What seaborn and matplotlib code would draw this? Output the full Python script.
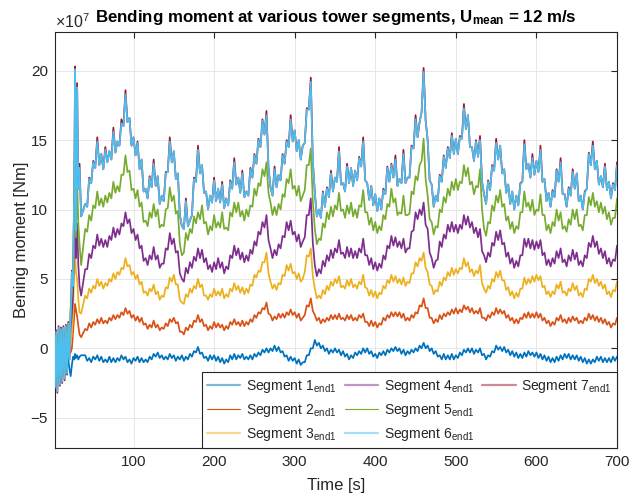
import matplotlib
matplotlib.use('Agg')
import matplotlib.pyplot as plt
import seaborn as sns
import pandas as pd
from matplotlib.lines import Line2D

sns.set_theme(style='white')
plt.rcParams['font.family'] = ['Liberation Sans', 'DejaVu Sans']
plt.rcParams['mathtext.fontset'] = 'custom'
plt.rcParams['mathtext.rm'] = 'Liberation Sans'
plt.rcParams['mathtext.it'] = 'Liberation Sans:italic'
plt.rcParams['mathtext.bf'] = 'Liberation Sans:bold'

# ---------------- data (bending moment in units of 1e7 Nm) ----------------
# start-up transient samples
time_transient = [2.5, 4, 5.5, 7, 8.5, 10, 11.5, 13, 14.5, 16, 17.5, 19, 20.5,
                  22, 23.5, 25, 26.5, 27.5, 28.5, 30, 31.5, 33, 35]
# main samples every 5 s (40..700) and in-between samples (42.5..697.5)
time_main = list(range(40, 701, 5))
time_mid = [40 + 2.5 + 5 * k for k in range(132)]

seg1_tr = [-1.5, -0.6, -1.6, -0.5, -1.4, -0.6, -1.3, -0.6, -1.2, -0.7, -1.1, -0.8, -1.5,
           -2.0, -1.2, -0.6, -0.8, -0.4, -0.7, -0.5, -0.8, -0.6, -0.5]
seg1_main = [-0.5, -0.7, -0.6, -0.5, -0.6, -0.8, -0.6, -0.7, -0.7, -0.5,
             -0.6, -0.8, -0.7, -0.6, -0.7, -0.8, -0.6, -0.4, -0.3, -0.5,
             -0.6, -0.4, -0.5, -0.6, -0.5, -0.6, -0.4, -0.2, 0.1, -0.3,
             -0.6, -0.5, -0.5, -0.6, -0.7, -0.8, -0.5, -0.4, -0.5, -0.4,
             -0.6, -0.5, -0.4, -0.3, -0.1, 0.0, 0.0, 0.2, 0.1, -0.2,
             -0.5, -0.6, -0.7, -0.8, -1.0, -0.5, 0.0, 0.6, 0.4, 0.2,
             0.0, -0.1, 0.0, -0.1, -0.2, -0.4, -0.5, -0.3, -0.2, 0.0,
             0.0, -0.2, -0.4, -0.3, -0.2, -0.1, 0.0, 0.1, 0.0, -0.1,
             -0.2, -0.1, 0.0, 0.2, 0.4, 0.2, 0.0, -0.2, -0.5, -0.4,
             -0.5, -0.4, -0.5, -0.3, -0.1, 0.0, 0.0, -0.1, 0.0, -0.4,
             -0.5, -0.2, 0.2, 0.1, 0.1, -0.1, -0.2, -0.3, -0.4, -0.3,
             -0.2, -0.3, -0.3, -0.4, -0.5, -0.6, -0.7, -0.6, -0.5, -0.4,
             -0.4, -0.5, -0.5, -0.6, -0.7, -0.8, -0.8, -0.6, -0.6, -0.7,
             -0.7, -0.6, -0.6]
seg1_mid = [-0.9, -1.0, -0.8, -0.9, -1.0, -1.0, -1.0, -1.0, -0.9, -0.8,
            -1.0, -1.1, -0.9, -1.0, -1.0, -1.0, -0.8, -0.6, -0.7, -0.8,
            -0.8, -0.7, -0.9, -0.8, -0.9, -0.8, -0.6, -0.3, -0.4, -0.7,
            -0.9, -0.8, -0.9, -1.0, -1.1, -1.0, -0.8, -0.8, -0.7, -0.8,
            -0.8, -0.8, -0.6, -0.5, -0.3, -0.3, -0.2, -0.2, -0.3, -0.6,
            -0.9, -0.9, -1.1, -1.2, -1.0, -0.5, 0.0, 0.2, 0.0, -0.2,
            -0.4, -0.3, -0.3, -0.5, -0.6, -0.8, -0.7, -0.5, -0.4, -0.3,
            -0.4, -0.6, -0.7, -0.5, -0.5, -0.3, -0.2, -0.2, -0.4, -0.5,
            -0.4, -0.3, -0.2, 0.0, 0.0, -0.2, -0.4, -0.6, -0.8, -0.8,
            -0.8, -0.8, -0.7, -0.5, -0.3, -0.3, -0.4, -0.3, -0.5, -0.8,
            -0.6, -0.3, -0.1, -0.2, -0.3, -0.5, -0.6, -0.7, -0.7, -0.6,
            -0.5, -0.6, -0.7, -0.8, -0.9, -1.0, -1.0, -0.9, -0.8, -0.7,
            -0.8, -0.8, -0.9, -1.0, -1.1, -1.1, -1.0, -0.9, -1.0, -1.0,
            -1.0, -0.9]

seg2_tr = [-0.8, 0.2, -0.8, 0.3, -0.6, 0.3, -0.6, 0.3, -0.5, 0.3, -0.4, 0.3, -0.2,
           -0.3, 0.0, 1.2, 2.5, 3.2, 2.8, 2.3, 1.6, 1.0, 0.8]
seg2_main = [1.4, 1.8, 1.9, 2.1, 2.2, 2.0, 2.2, 2.4, 2.4, 2.6,
             2.9, 2.7, 2.4, 2.3, 2.2, 1.8, 1.7, 2.0, 1.7, 1.5,
             1.8, 2.1, 2.2, 1.9, 1.2, 1.5, 1.7, 2.0, 2.4, 2.1,
             1.7, 1.6, 1.9, 1.8, 1.7, 1.6, 1.9, 2.1, 1.9, 2.0,
             1.9, 2.1, 2.4, 2.6, 2.9, 3.3, 2.4, 2.3, 2.5, 2.5,
             2.6, 2.8, 2.6, 2.5, 2.2, 3.1, 3.6, 2.4, 2.2, 2.1,
             2.2, 2.4, 2.4, 2.5, 2.2, 2.4, 2.4, 2.2, 2.4, 2.5,
             1.9, 2.0, 1.9, 1.8, 2.2, 2.4, 2.6, 2.6, 2.6, 2.5,
             2.2, 2.4, 2.6, 3.1, 3.6, 2.9, 2.2, 2.1, 2.4, 2.5,
             2.6, 2.8, 2.9, 2.8, 3.1, 3.0, 2.9, 2.7, 2.9, 2.2,
             2.4, 2.6, 2.9, 2.8, 2.7, 2.4, 2.2, 2.1, 2.2, 2.5,
             2.6, 2.5, 2.6, 2.5, 2.2, 2.0, 1.9, 2.2, 2.4, 2.1,
             2.2, 2.3, 2.2, 2.0, 2.2, 2.5, 2.4, 2.3, 2.2, 2.1,
             1.9, 1.8, 2.2]
seg2_mid = [1.3, 1.5, 1.7, 1.8, 1.8, 1.8, 2.0, 2.1, 2.2, 2.4,
            2.5, 2.2, 2.0, 1.9, 1.7, 1.4, 1.5, 1.5, 1.3, 1.4,
            1.6, 1.9, 1.8, 1.2, 1.0, 1.3, 1.5, 1.9, 1.9, 1.6,
            1.3, 1.4, 1.5, 1.5, 1.3, 1.4, 1.7, 1.7, 1.6, 1.6,
            1.7, 1.9, 2.2, 2.5, 2.8, 2.5, 2.0, 2.1, 2.2, 2.2,
            2.4, 2.4, 2.2, 2.0, 2.4, 3.0, 2.7, 2.0, 1.8, 1.9,
            2.0, 2.1, 2.1, 2.1, 2.0, 2.1, 2.0, 2.0, 2.2, 1.9,
            1.6, 1.6, 1.5, 1.7, 2.0, 2.2, 2.3, 2.3, 2.2, 2.0,
            2.0, 2.2, 2.5, 3.0, 2.9, 2.2, 1.8, 1.9, 2.1, 2.3,
            2.4, 2.5, 2.5, 2.6, 2.8, 2.6, 2.5, 2.5, 2.2, 2.0,
            2.2, 2.4, 2.5, 2.5, 2.2, 2.0, 1.8, 1.8, 2.1, 2.2,
            2.2, 2.2, 2.2, 2.0, 1.8, 1.6, 1.7, 2.0, 1.9, 1.8,
            1.9, 2.0, 1.8, 1.8, 2.0, 2.1, 2.0, 1.9, 1.8, 1.7,
            1.5, 1.7]

seg3_tr = [-1.2, 0.4, -1.2, 0.6, -1.0, 0.5, -0.9, 0.6, -0.9, 0.6, -0.6, 0.7, 0.0,
           0.5, 1.0, 2.5, 6.0, 7.3, 5.5, 5.0, 3.5, 2.6, 2.5]
seg3_main = [3.8, 4.3, 4.5, 5.0, 4.8, 4.7, 5.0, 5.4, 5.5, 5.8,
             6.5, 6.0, 5.5, 5.3, 4.8, 4.1, 4.3, 4.6, 4.1, 3.8,
             4.4, 5.1, 5.3, 4.6, 3.3, 3.9, 4.3, 4.5, 5.0, 4.6,
             3.8, 3.9, 4.3, 4.1, 4.3, 3.9, 4.3, 4.7, 4.5, 4.4,
             4.3, 4.6, 5.3, 5.6, 6.2, 6.9, 4.8, 4.6, 4.7, 5.3,
             6.0, 6.1, 5.5, 5.4, 5.0, 6.7, 7.2, 4.3, 3.8, 4.2,
             4.5, 4.8, 5.0, 5.2, 4.5, 4.9, 5.0, 4.6, 4.8, 5.3,
             4.3, 4.2, 4.1, 4.0, 4.5, 4.9, 5.3, 5.2, 5.0, 5.1,
             4.8, 5.4, 6.2, 6.5, 6.9, 5.5, 4.5, 4.2, 4.8, 5.1,
             5.5, 5.8, 5.7, 5.8, 6.5, 6.2, 5.7, 5.6, 6.0, 4.3,
             4.5, 5.0, 5.5, 5.6, 4.9, 4.4, 4.1, 4.0, 4.3, 5.1,
             5.0, 5.2, 5.3, 5.2, 4.5, 4.1, 4.1, 4.6, 4.8, 4.1,
             4.3, 4.7, 4.5, 4.0, 4.3, 5.0, 5.3, 5.0, 4.8, 4.6,
             4.1, 4.2, 4.8]
seg3_mid = [3.6, 4.0, 4.3, 4.5, 4.3, 4.5, 4.8, 5.0, 5.3, 5.7,
            5.9, 5.3, 5.0, 4.6, 4.0, 3.8, 4.1, 3.9, 3.5, 3.7,
            4.3, 4.8, 4.6, 3.5, 3.2, 3.7, 4.0, 4.3, 4.4, 3.8,
            3.5, 3.7, 3.8, 3.8, 3.6, 3.7, 4.1, 4.2, 4.0, 3.9,
            4.0, 4.5, 5.1, 5.5, 6.2, 5.4, 4.3, 4.2, 4.6, 5.2,
            5.6, 5.4, 5.0, 4.8, 5.5, 6.6, 5.2, 3.6, 3.6, 3.9,
            4.2, 4.5, 4.7, 4.4, 4.3, 4.5, 4.4, 4.3, 4.6, 4.4,
            3.8, 3.7, 3.6, 3.9, 4.3, 4.7, 4.8, 4.7, 4.6, 4.5,
            4.7, 5.4, 5.9, 6.3, 5.8, 4.6, 3.9, 4.1, 4.5, 4.9,
            5.2, 5.3, 5.4, 5.7, 5.9, 5.5, 5.2, 5.4, 4.7, 4.0,
            4.3, 4.8, 5.1, 4.9, 4.2, 3.8, 3.6, 3.7, 4.3, 4.6,
            4.7, 4.8, 4.9, 4.4, 3.9, 3.7, 3.9, 4.3, 4.0, 3.8,
            4.1, 4.2, 3.8, 3.7, 4.2, 4.8, 4.7, 4.5, 4.3, 3.9,
            3.7, 4.1]

seg4_tr = [-1.7, 0.7, -1.8, 0.9, -1.5, 0.8, -1.4, 0.9, -1.3, 0.9, -1.0, 1.1, 0.3,
           1.5, 2.5, 4.0, 9.0, 12.0, 6.5, 9.0, 6.0, 4.5, 3.8]
seg4_main = [5.7, 6.8, 7.4, 8.2, 7.9, 7.8, 8.1, 8.7, 8.6, 9.0,
             9.8, 9.3, 8.6, 8.2, 7.4, 6.5, 6.7, 7.3, 6.7, 6.1,
             7.2, 8.3, 7.9, 7.0, 5.0, 5.8, 6.2, 6.6, 7.2, 7.1,
             6.5, 6.0, 6.2, 6.5, 6.2, 5.9, 6.7, 7.4, 7.2, 6.9,
             6.7, 7.1, 7.7, 8.4, 9.1, 9.6, 7.2, 7.1, 7.5, 8.1,
             9.1, 9.2, 8.4, 8.2, 7.7, 9.6, 10.8, 6.0, 5.7, 6.3,
             6.7, 7.1, 7.2, 7.8, 6.9, 7.3, 7.2, 7.0, 7.2, 7.9,
             6.7, 6.5, 6.2, 6.1, 6.7, 7.4, 8.1, 8.0, 7.7, 7.9,
             7.2, 8.4, 9.8, 10.0, 10.5, 8.6, 6.5, 6.3, 7.7, 8.2,
             8.9, 9.1, 8.9, 8.9, 9.6, 9.5, 9.1, 8.7, 8.6, 6.7,
             6.9, 7.6, 8.4, 8.5, 7.6, 6.9, 6.5, 6.3, 6.7, 7.9,
             7.9, 7.8, 7.7, 7.8, 6.9, 6.4, 6.5, 7.0, 7.2, 6.4,
             6.7, 7.1, 6.9, 6.3, 6.7, 7.6, 8.1, 7.7, 7.2, 7.0,
             6.5, 6.4, 7.4]
seg4_mid = [5.7, 6.5, 7.2, 7.4, 7.3, 7.3, 7.8, 8.0, 8.2, 8.8,
            9.0, 8.3, 7.8, 7.2, 6.3, 6.0, 6.4, 6.4, 5.8, 6.1,
            7.1, 7.5, 6.9, 5.4, 4.8, 5.4, 5.8, 6.3, 6.5, 6.2,
            5.7, 5.5, 5.7, 5.8, 5.4, 5.7, 6.5, 6.7, 6.4, 6.2,
            6.3, 6.8, 7.4, 8.2, 8.7, 7.8, 6.5, 6.7, 7.2, 8.0,
            8.5, 8.2, 7.7, 7.3, 8.0, 9.6, 7.6, 5.2, 5.4, 5.9,
            6.3, 6.5, 6.9, 6.8, 6.5, 6.6, 6.5, 6.5, 6.9, 6.7,
            6.0, 5.7, 5.6, 5.8, 6.4, 7.2, 7.4, 7.3, 7.2, 6.9,
            7.2, 8.5, 9.3, 9.6, 8.9, 6.9, 5.8, 6.4, 7.3, 7.9,
            8.4, 8.4, 8.3, 8.6, 8.9, 8.7, 8.3, 8.0, 7.0, 6.2,
            6.6, 7.4, 7.8, 7.5, 6.6, 6.1, 5.8, 5.9, 6.7, 7.3,
            7.2, 7.1, 7.2, 6.7, 6.0, 5.9, 6.1, 6.5, 6.2, 5.9,
            6.3, 6.4, 6.0, 5.9, 6.5, 7.3, 7.3, 6.8, 6.5, 6.1,
            5.9, 6.3]

seg5_tr = [-2.2, 0.9, -2.4, 1.2, -2.0, 1.1, -1.9, 1.2, -1.7, 1.2, -1.3, 1.5, 0.5,
           3.0, 4.0, 6.0, 11.0, 13.0, 8.0, 12.0, 9.0, 7.5, 6.0]
seg5_main = [8.6, 9.6, 10.3, 11.3, 10.8, 11.0, 11.2, 12.0, 11.7, 12.5,
             13.9, 12.8, 11.5, 11.4, 10.5, 9.2, 9.8, 10.4, 10.0, 8.9,
             10.0, 11.6, 11.0, 9.9, 6.7, 8.3, 8.6, 9.5, 9.8, 10.3,
             9.1, 8.8, 9.6, 9.1, 9.8, 8.7, 9.8, 10.5, 10.5, 9.9,
             10.0, 10.3, 11.5, 11.9, 12.9, 13.4, 10.5, 10.2, 10.4, 11.1,
             12.2, 12.9, 11.7, 11.7, 11.0, 13.2, 14.4, 8.6, 7.9, 9.0,
             9.8, 10.2, 10.3, 11.2, 10.0, 10.3, 10.5, 10.0, 10.3, 11.4,
             9.8, 9.4, 9.1, 8.8, 9.6, 10.4, 11.5, 10.8, 9.8, 11.0,
             9.6, 11.3, 12.4, 13.2, 15.1, 11.0, 9.1, 8.8, 10.0, 10.9,
             11.5, 12.0, 12.2, 12.0, 13.2, 13.0, 12.0, 11.7, 12.9, 8.6,
             9.1, 10.3, 11.0, 11.4, 10.4, 9.5, 9.1, 8.8, 9.8, 11.3,
             10.5, 10.7, 10.0, 11.1, 9.6, 8.9, 9.1, 10.0, 9.8, 8.8,
             9.3, 10.0, 10.0, 8.9, 9.6, 10.9, 11.2, 10.6, 10.5, 10.2,
             9.8, 9.4, 10.8]
seg5_mid = [8.4, 9.2, 10.1, 10.3, 10.2, 10.5, 10.8, 11.2, 11.3, 12.5,
            12.7, 11.4, 10.8, 10.2, 9.1, 8.8, 9.4, 9.5, 8.7, 8.8,
            10.1, 10.6, 9.7, 7.5, 6.9, 7.8, 8.3, 9.0, 9.3, 9.0,
            8.2, 8.5, 8.7, 8.7, 8.6, 8.5, 9.5, 9.8, 9.5, 9.2,
            9.5, 10.2, 11.0, 11.7, 12.4, 11.2, 9.6, 9.6, 10.0, 10.9,
            11.9, 11.5, 11.0, 10.6, 11.4, 13.2, 10.6, 7.5, 7.8, 8.7,
            9.3, 9.5, 10.0, 9.9, 9.4, 9.7, 9.5, 9.4, 10.2, 9.8,
            8.9, 8.5, 8.3, 8.5, 9.3, 10.2, 10.5, 9.6, 9.7, 9.6,
            9.7, 11.1, 12.1, 13.5, 12.2, 9.3, 8.2, 8.7, 9.8, 10.5,
            11.0, 11.4, 11.4, 11.9, 12.4, 11.8, 11.1, 11.6, 10.0, 8.1,
            9.0, 9.9, 10.5, 10.2, 9.2, 8.6, 8.3, 8.6, 9.8, 10.2,
            9.9, 9.6, 9.9, 9.6, 8.5, 8.3, 8.8, 9.2, 8.6, 8.4,
            8.9, 9.3, 8.8, 8.5, 9.6, 10.3, 10.2, 9.8, 9.7, 9.3,
            8.9, 9.4]

seg6_tr = [-2.8, 1.2, -3.1, 1.5, -2.6, 1.4, -2.4, 1.5, -2.2, 1.6, -1.8, 1.8, -0.8,
           2.2, 5.5, 4.5, 12.0, 20.1, 8.5, 18.8, 11.5, 13.0, 9.5]
seg6_main = [10.4, 12.2, 13.4, 14.9, 14.0, 14.3, 14.2, 15.6, 14.9, 16.2,
             18.3, 16.6, 15.2, 14.8, 13.6, 11.5, 12.3, 13.3, 12.4, 11.0,
             12.6, 14.9, 14.2, 12.6, 8.8, 10.6, 9.2, 12.2, 14.3, 13.2,
             11.3, 11.0, 12.1, 11.5, 11.8, 10.8, 12.0, 13.4, 12.3, 12.6,
             11.3, 12.9, 13.9, 15.0, 16.4, 16.8, 11.6, 12.9, 12.5, 13.9,
             14.9, 16.5, 15.7, 15.0, 14.6, 17.2, 19.2, 11.2, 10.0, 11.2,
             11.5, 12.6, 12.3, 14.2, 11.9, 13.1, 13.0, 12.8, 13.7, 14.9,
             11.9, 11.7, 11.1, 10.8, 11.4, 13.0, 13.2, 13.6, 12.2, 14.0,
             12.3, 14.5, 16.5, 16.3, 19.9, 15.0, 11.8, 11.0, 12.4, 13.8,
             14.4, 15.3, 15.1, 15.2, 17.3, 16.8, 14.5, 14.9, 15.0, 11.1,
             12.0, 13.1, 14.8, 14.6, 12.9, 11.8, 11.3, 11.0, 11.8, 14.7,
             13.3, 13.7, 13.5, 14.3, 12.2, 11.2, 11.3, 12.8, 13.4, 11.1,
             11.5, 12.7, 12.6, 11.0, 11.2, 14.0, 14.6, 13.5, 12.4, 13.1,
             12.0, 11.8, 13.2]
seg6_mid = [10.2, 11.9, 13.0, 13.2, 12.9, 13.4, 13.6, 14.1, 14.6, 16.0,
            16.3, 14.6, 13.9, 12.9, 11.3, 10.8, 11.6, 11.7, 10.4, 10.6,
            12.7, 13.4, 12.2, 9.6, 8.6, 8.8, 9.6, 12.0, 12.6, 11.2,
            10.0, 10.5, 10.6, 10.5, 10.1, 10.3, 11.5, 11.8, 11.2, 10.9,
            11.0, 12.3, 13.3, 14.5, 15.4, 13.0, 11.0, 11.6, 12.1, 13.3,
            14.5, 14.9, 14.2, 13.6, 14.8, 17.2, 13.5, 9.5, 9.4, 10.2,
            10.9, 11.3, 12.0, 11.8, 11.3, 11.9, 11.7, 12.1, 13.1, 12.1,
            10.7, 10.3, 9.9, 10.0, 11.1, 12.0, 12.3, 11.7, 11.9, 11.9,
            12.3, 14.4, 15.2, 17.0, 16.4, 12.1, 10.2, 10.6, 12.0, 13.0,
            13.7, 14.0, 14.0, 15.1, 15.8, 14.5, 13.5, 13.8, 12.0, 10.4,
            11.4, 12.8, 13.6, 12.6, 11.2, 10.4, 10.0, 10.3, 12.0, 12.9,
            12.3, 12.5, 12.7, 12.0, 10.6, 10.2, 10.9, 12.0, 11.1, 10.2,
            11.0, 11.5, 10.6, 10.0, 11.5, 13.2, 12.9, 11.8, 11.6, 11.4,
            10.8, 11.4]

seg7_tr = [-2.9, 1.3, -3.2, 1.6, -2.7, 1.5, -2.5, 1.6, -2.3, 1.7, -1.9, 1.9, -0.8,
           2.3, 5.6, 4.5, 12.2, 20.3, 8.6, 19.1, 11.5, 13.3, 9.5]
seg7_main = [10.4, 12.3, 13.5, 15.2, 14.0, 14.5, 14.2, 15.9, 14.9, 16.5,
             18.6, 16.6, 15.2, 14.9, 13.6, 11.5, 12.4, 13.6, 12.4, 11.0,
             12.7, 15.2, 14.2, 12.6, 8.8, 10.8, 9.2, 12.3, 14.6, 13.2,
             11.3, 11.0, 12.3, 11.5, 12.0, 10.8, 12.1, 13.7, 12.3, 12.8,
             11.3, 13.0, 14.0, 15.1, 16.5, 17.1, 11.6, 13.1, 12.5, 14.0,
             15.0, 16.8, 15.7, 15.0, 14.6, 17.3, 19.5, 11.2, 10.0, 11.3,
             11.6, 12.8, 12.3, 14.5, 11.9, 13.3, 13.0, 12.8, 13.8, 15.2,
             11.9, 11.7, 11.1, 10.8, 11.5, 13.1, 13.3, 13.9, 12.2, 14.3,
             12.3, 14.6, 16.8, 16.3, 20.2, 15.0, 11.8, 11.0, 12.5, 13.9,
             14.5, 15.5, 15.1, 15.3, 17.6, 16.8, 14.5, 15.0, 15.3, 11.1,
             12.1, 13.2, 15.1, 14.6, 12.9, 11.8, 11.3, 11.0, 11.9, 15.0,
             13.3, 14.0, 13.5, 14.6, 12.2, 11.2, 11.4, 12.9, 13.7, 11.1,
             11.6, 12.9, 12.6, 11.0, 11.3, 14.1, 14.9, 13.5, 12.4, 13.3,
             12.0, 11.9, 13.4]
seg7_mid = [10.2, 11.9, 13.0, 13.2, 12.9, 13.4, 13.6, 14.1, 14.6, 16.0,
            16.3, 14.6, 13.9, 12.9, 11.3, 10.8, 11.6, 11.7, 10.4, 10.6,
            12.7, 13.4, 12.2, 9.6, 8.6, 8.8, 9.6, 12.0, 12.6, 11.2,
            10.0, 10.5, 10.6, 10.5, 10.1, 10.3, 11.5, 11.8, 11.2, 10.9,
            11.0, 12.3, 13.3, 14.5, 15.4, 13.0, 11.0, 11.6, 12.1, 13.3,
            14.5, 14.9, 14.2, 13.6, 14.8, 17.2, 13.5, 9.5, 9.4, 10.2,
            10.9, 11.3, 12.0, 11.8, 11.3, 11.9, 11.7, 12.1, 13.1, 12.1,
            10.7, 10.3, 9.9, 10.0, 11.1, 12.0, 12.3, 11.7, 11.9, 11.9,
            12.3, 14.4, 15.2, 17.0, 16.4, 12.1, 10.2, 10.6, 12.0, 13.0,
            13.7, 14.0, 14.0, 15.1, 15.8, 14.5, 13.5, 13.8, 12.0, 10.4,
            11.4, 12.8, 13.6, 12.6, 11.2, 10.4, 10.0, 10.3, 12.0, 12.9,
            12.3, 12.5, 12.7, 12.0, 10.6, 10.2, 10.9, 12.0, 11.1, 10.2,
            11.0, 11.5, 10.6, 10.0, 11.5, 13.2, 12.9, 11.8, 11.6, 11.4,
            10.8, 11.4]

segment_names = ['Segment 1', 'Segment 2', 'Segment 3', 'Segment 4',
                 'Segment 5', 'Segment 6', 'Segment 7']
series = [(seg1_tr, seg1_main, seg1_mid), (seg2_tr, seg2_main, seg2_mid),
          (seg3_tr, seg3_main, seg3_mid), (seg4_tr, seg4_main, seg4_mid),
          (seg5_tr, seg5_main, seg5_mid), (seg6_tr, seg6_main, seg6_mid),
          (seg7_tr, seg7_main, seg7_mid)]
colors = ['#0072BD', '#D95319', '#EDB120', '#7E2F8E', '#77AC30', '#4DBEEE', '#A2142F']

frames = []
for name, (tr, mn, md) in zip(segment_names, series):
    frames.append(pd.DataFrame({'Time': time_transient + time_main + time_mid,
                                'Moment': tr + mn + md, 'Segment': name}))
df = pd.concat(frames, ignore_index=True)

# ---------------- figure ----------------
fig = plt.figure(figsize=(6.39, 4.97), dpi=100)
ax = fig.add_axes([0.086, 0.098, 0.8796, 0.838])

draw_order = [6, 0, 1, 2, 3, 4, 5]
for z, i in enumerate(draw_order):
    sub = df[df['Segment'] == segment_names[i]]
    sns.lineplot(data=sub, x='Time', y='Moment', ax=ax, color=colors[i],
                 linewidth=1.25, estimator=None, sort=True, legend=False,
                 zorder=3 + z)

ax.set_xlim(2.5, 700)
ax.set_ylim(-7.2, 22.8)
ax.set_xticks([100, 200, 300, 400, 500, 600, 700])
ax.set_yticks([-5, 0, 5, 10, 15, 20])
ax.grid(True, color='#e3e3e3', linewidth=0.6)
ax.set_axisbelow(True)
for sp in ax.spines.values():
    sp.set_color('#262626')
    sp.set_linewidth(0.8)
ax.tick_params(axis='both', which='both', direction='in', length=4, width=0.8,
               top=True, right=True, colors='#262626', labelsize=11,
               labelcolor='#262626', pad=5)

ax.set_xlabel('Time [s]', fontsize=12, color='#262626', labelpad=6)
ax.set_ylabel('Bening moment [Nm]', fontsize=12, color='#262626', labelpad=1)
ax.set_title(r'Bending moment at various tower segments, U$_{\mathbf{mean}}$ = 12 m/s',
             fontsize=12.2, fontweight='bold', color='black', pad=7, x=0.5)
ax.text(0.0, 1.002, r'$\times10^{7}$', transform=ax.transAxes, fontsize=11.5,
        color='#262626', ha='left', va='bottom')

# legend
handles = []
labels = []
faded = {0, 2, 3, 5, 6}
for i, name in enumerate(segment_names):
    if i in faded:
        h = Line2D([], [], color=colors[i], linewidth=1.6, alpha=0.5)
    else:
        h = Line2D([], [], color=colors[i], linewidth=0.8)
    handles.append(h)
    labels.append(name + r'$_{\mathrm{end1}}$')
for _ in range(2):
    handles.append(Line2D([], [], alpha=0))
    labels.append('')
leg = ax.legend(handles, labels, ncol=3, loc='lower right', bbox_to_anchor=(1.0, 0.0),
                fontsize=10, frameon=True, fancybox=False, framealpha=1,
                edgecolor='#262626', borderaxespad=0.0, handlelength=2.4,
                handletextpad=0.4, columnspacing=0.6, labelspacing=0.5,
                borderpad=0.4)
leg.get_frame().set_linewidth(0.8)
leg.set_zorder(20)

fig.savefig('out.png', dpi=100)
